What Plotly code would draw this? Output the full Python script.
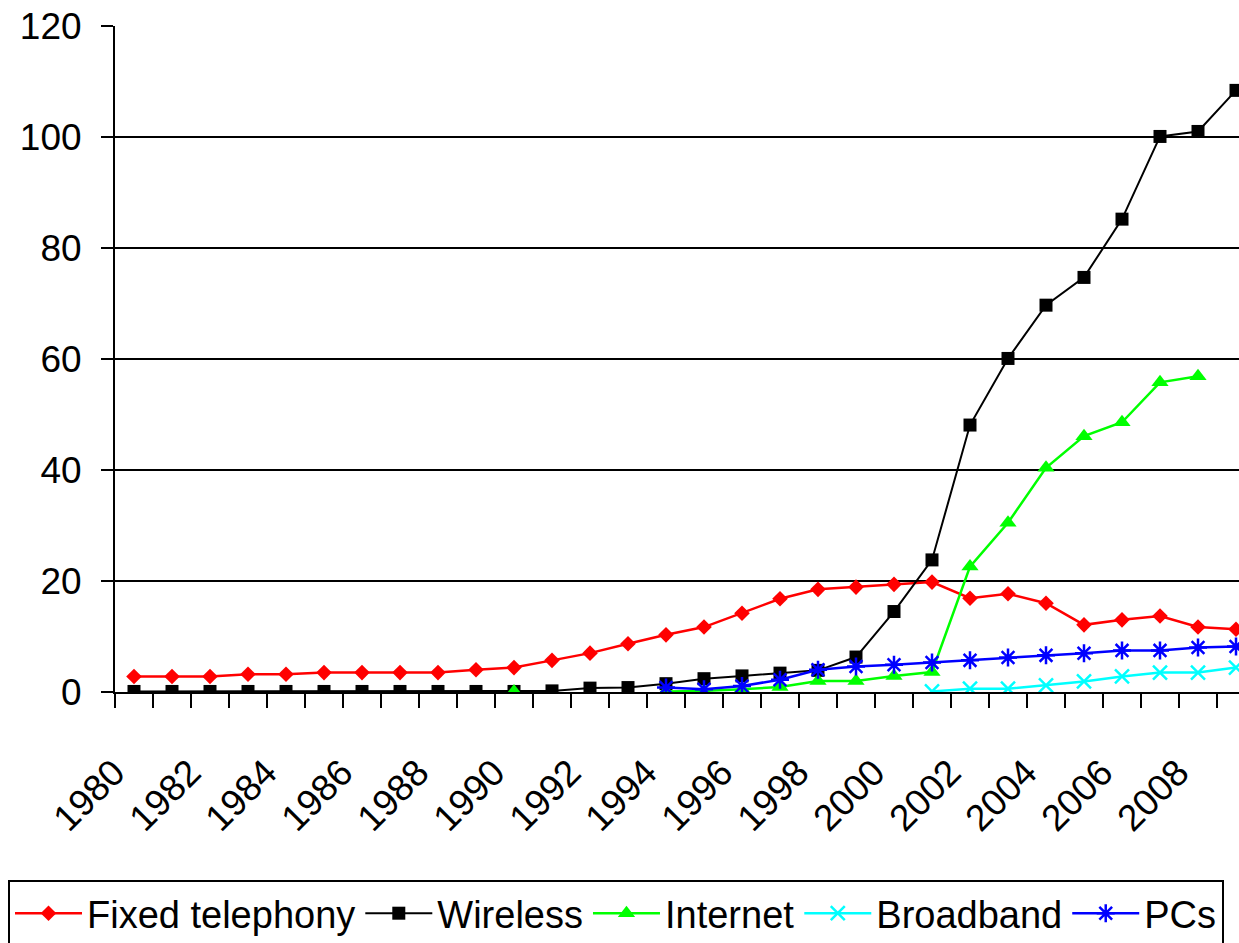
import plotly.graph_objects as go

years = list(range(1980, 2010))
fixed = [2.8, 2.8, 2.8, 3.2, 3.2, 3.5, 3.5, 3.5, 3.5, 4.0,
         4.4, 5.7, 7.0, 8.7, 10.3, 11.7, 14.2, 16.8, 18.5, 18.9,
         19.4, 19.8, 16.9, 17.7, 16.0, 12.1, 13.0, 13.7, 11.7, 11.3]
wireless = [0.1] * 11 + [0.2, 0.7, 0.8, 1.5, 2.4, 2.9, 3.4, 3.9, 6.3, 14.5,
                         23.8, 48.1, 60.1, 69.7, 74.7, 85.2, 100.1, 101.0, 108.4]
internet = [None] * 10 + [0.1, None, None, None,
                          0.1, 0.2, 0.5, 0.9, 2.0, 2.0, 2.9, 3.6,
                          22.6, 30.5, 40.4, 46.1, 48.6, 55.8, 56.9, None]
broadband = [None] * 21 + [0.1, 0.6, 0.6, 1.2, 1.9, 2.8, 3.5, 3.5, 4.4]
pcs = [None] * 14 + [0.8, 0.5, 1.1, 2.2, 4.0, 4.6, 4.9, 5.3, 5.7, 6.2,
                     6.6, 7.0, 7.5, 7.5, 8.0, 8.2]

tick_years = list(range(1980, 2009, 2))
tick_labels = [str(y) for y in tick_years]
y_ticks = [0, 20, 40, 60, 80, 100, 120]

FONT = "Liberation Sans, Arial, sans-serif"

W, H = 1239, 943
ML, MT, MB = 115, 26, 251
PW, PH = W - ML, H - MT - MB

fig = go.Figure()
fig.add_trace(go.Scatter(x=years, y=fixed, name="Fixed telephony", mode="lines+markers",
                         line=dict(color="#FF0000", width=2.5),
                         marker=dict(symbol="diamond", size=12, color="#FF0000")))
fig.add_trace(go.Scatter(x=years, y=wireless, name="Wireless", mode="lines+markers",
                         line=dict(color="#000000", width=2),
                         marker=dict(symbol="square", size=13, color="#000000")))
fig.add_trace(go.Scatter(x=years, y=internet, name="Internet", mode="lines+markers",
                         line=dict(color="#00FF00", width=2.5),
                         marker=dict(symbol="triangle-up", size=15, color="#00FF00")))
fig.add_trace(go.Scatter(x=years, y=broadband, name="Broadband", mode="lines+markers",
                         line=dict(color="#00FFFF", width=2.5),
                         marker=dict(symbol="x-thin-open", size=14,
                                     line=dict(color="#00FFFF", width=2.5))))
fig.add_trace(go.Scatter(x=years, y=pcs, name="PCs", mode="lines+markers",
                         line=dict(color="#0000FF", width=2.5),
                         marker=dict(symbol="asterisk-open", size=15,
                                     line=dict(color="#0000FF", width=2.5))))

fig.update_layout(
    width=W, height=H,
    margin=dict(l=ML, r=0, t=MT, b=MB, pad=0, autoexpand=False),
    paper_bgcolor="white", plot_bgcolor="white",
    font=dict(family=FONT, size=36, color="black"),
    showlegend=True,
    legend=dict(orientation="h", xref="paper", yref="paper",
                x=(8 - ML) / PW, y=-(880 - (H - MB)) / PH,
                xanchor="left", yanchor="top",
                bordercolor="black", borderwidth=2, bgcolor="white",
                font=dict(family=FONT, size=38, color="black"),
                itemwidth=67, tracegroupgap=0),
)
fig.update_xaxes(
    range=[1979.5, 1979.5 + PW / 38], showgrid=False, zeroline=False,
    showline=True, linecolor="black", linewidth=2,
    tickmode="array", tickvals=tick_years, ticktext=tick_labels,
    ticks="", tickangle=-45, ticklabelstandoff=42, ticklabelshift=-20,
    tickfont=dict(family=FONT, size=37, color="black"),
    minor=dict(tick0=1979.5, dtick=1, ticks="outside", ticklen=14,
               tickwidth=2, tickcolor="black", showgrid=False),
)
fig.update_yaxes(
    range=[0, 120], tickmode="array", tickvals=y_ticks,
    showgrid=True, gridcolor="black", gridwidth=2, zeroline=False,
    showline=True, linecolor="black", linewidth=2,
    ticks="outside", ticklen=12, tickwidth=2, tickcolor="black",
    ticklabelstandoff=12,
    tickfont=dict(family=FONT, size=37, color="black"),
)

fig.write_html("out.html")
